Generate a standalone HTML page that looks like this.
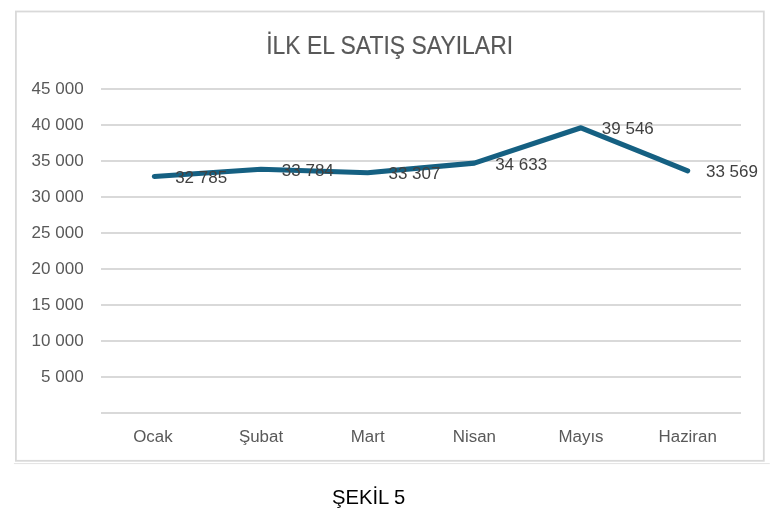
<!DOCTYPE html><html><head><meta charset="utf-8"><style>html,body{margin:0;padding:0;background:#fff;}svg{display:block;will-change:transform;font-family:"Liberation Sans",sans-serif;}</style></head><body>
<svg width="783" height="514" viewBox="0 0 783 514">
<rect x="15.9" y="11.5" width="747.90" height="449.30" fill="#fff" stroke="#d9d9d9" stroke-width="1.8"/>
<line x1="13.9" y1="463.6" x2="769.8" y2="463.6" stroke="#e3e3e3" stroke-width="1"/>
<line x1="101" y1="413.00" x2="741" y2="413.00" stroke="#d9d9d9" stroke-width="1.8"/>
<line x1="101" y1="377.00" x2="741" y2="377.00" stroke="#d9d9d9" stroke-width="1.8"/>
<line x1="101" y1="341.00" x2="741" y2="341.00" stroke="#d9d9d9" stroke-width="1.8"/>
<line x1="101" y1="305.00" x2="741" y2="305.00" stroke="#d9d9d9" stroke-width="1.8"/>
<line x1="101" y1="269.00" x2="741" y2="269.00" stroke="#d9d9d9" stroke-width="1.8"/>
<line x1="101" y1="233.00" x2="741" y2="233.00" stroke="#d9d9d9" stroke-width="1.8"/>
<line x1="101" y1="197.00" x2="741" y2="197.00" stroke="#d9d9d9" stroke-width="1.8"/>
<line x1="101" y1="161.00" x2="741" y2="161.00" stroke="#d9d9d9" stroke-width="1.8"/>
<line x1="101" y1="125.00" x2="741" y2="125.00" stroke="#d9d9d9" stroke-width="1.8"/>
<line x1="101" y1="89.00" x2="741" y2="89.00" stroke="#d9d9d9" stroke-width="1.8"/>
<text x="83.6" y="381.80" text-anchor="end" font-size="17" fill="#595959">5 000</text>
<text x="83.6" y="345.80" text-anchor="end" font-size="17" fill="#595959">10 000</text>
<text x="83.6" y="309.80" text-anchor="end" font-size="17" fill="#595959">15 000</text>
<text x="83.6" y="273.80" text-anchor="end" font-size="17" fill="#595959">20 000</text>
<text x="83.6" y="237.80" text-anchor="end" font-size="17" fill="#595959">25 000</text>
<text x="83.6" y="201.80" text-anchor="end" font-size="17" fill="#595959">30 000</text>
<text x="83.6" y="165.80" text-anchor="end" font-size="17" fill="#595959">35 000</text>
<text x="83.6" y="129.80" text-anchor="end" font-size="17" fill="#595959">40 000</text>
<text x="83.6" y="93.80" text-anchor="end" font-size="17" fill="#595959">45 000</text>
<text transform="translate(389.65 53.9) scale(0.9 1)" text-anchor="middle" font-size="25.5" fill="#595959" stroke="#595959" stroke-width="0.15">İLK EL SATIŞ SAYILARI</text>
<text transform="translate(152.93 441.6) scale(1.07 1)" text-anchor="middle" font-size="15.8" fill="#595959" stroke="#595959" stroke-width="0">Ocak</text>
<text transform="translate(261.00 441.6) scale(1.07 1)" text-anchor="middle" font-size="15.8" fill="#595959" stroke="#595959" stroke-width="0">Şubat</text>
<text transform="translate(367.67 441.6) scale(1.07 1)" text-anchor="middle" font-size="15.8" fill="#595959" stroke="#595959" stroke-width="0">Mart</text>
<text transform="translate(474.33 441.6) scale(1.07 1)" text-anchor="middle" font-size="15.8" fill="#595959" stroke="#595959" stroke-width="0">Nisan</text>
<text transform="translate(581.00 441.6) scale(1.07 1)" text-anchor="middle" font-size="15.8" fill="#595959" stroke="#595959" stroke-width="0">Mayıs</text>
<text transform="translate(687.67 441.6) scale(1.07 1)" text-anchor="middle" font-size="15.8" fill="#595959" stroke="#595959" stroke-width="0">Haziran</text>
<polyline points="154.33,176.45 261.00,169.26 367.67,172.69 474.33,163.14 581.00,127.77 687.67,170.80" fill="none" stroke="#156082" stroke-width="5.1" stroke-linejoin="round" stroke-linecap="round"/>
<text x="175.13" y="182.95" font-size="17" fill="#404040">32 785</text>
<text x="281.80" y="175.76" font-size="17" fill="#404040">33 784</text>
<text x="388.47" y="179.19" font-size="17" fill="#404040">33 307</text>
<text x="495.13" y="169.64" font-size="17" fill="#404040">34 633</text>
<text x="601.80" y="134.27" font-size="17" fill="#404040">39 546</text>
<text x="705.97" y="177.30" font-size="17" fill="#404040">33 569</text>
<text x="368.65" y="503.6" text-anchor="middle" font-size="20.2" fill="#000">ŞEKİL 5</text>
</svg></body></html>
